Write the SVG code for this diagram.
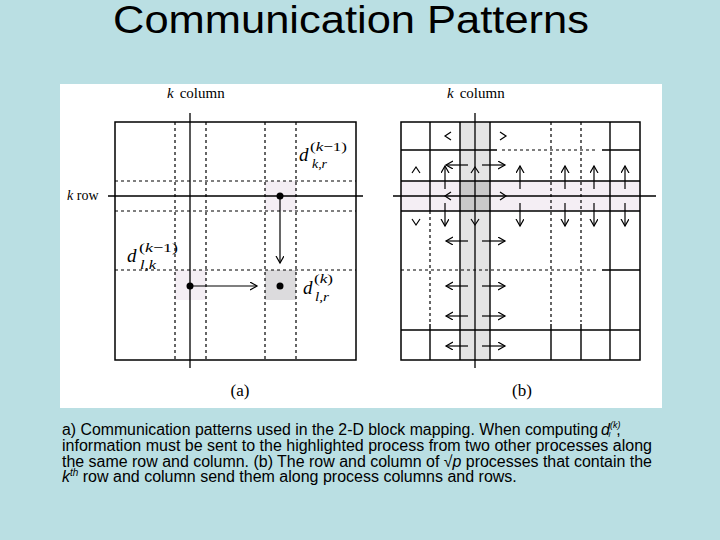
<svg xmlns="http://www.w3.org/2000/svg" width="720" height="540" viewBox="0 0 720 540">
<style>
.sans{font-family:"Liberation Sans",Arial,sans-serif;fill:#000}
.serif{font-family:"Liberation Serif","Times New Roman",serif;fill:#000}
.it{font-style:italic}
.frame{fill:none;stroke:#000;stroke-width:1.5}
.solid{stroke:#000;stroke-width:1.4;fill:none}
.dash{stroke:#000;stroke-width:1.2;stroke-dasharray:3 3;fill:none}
.axis{stroke:#000;stroke-width:1.3;fill:none}
.arr{stroke:#000;stroke-width:1.2;fill:none;marker-end:url(#ah)}
.head{stroke:#000;stroke-width:1.2;fill:none}
.pink{fill:#F4EEF4}
.lgray{fill:#E4E4E4}
.dgray{fill:#C9C9C9}
.mgray{fill:#DCDBDD}
</style>
<defs>
<marker id="ah" markerUnits="userSpaceOnUse" markerWidth="10" markerHeight="10" refX="7" refY="4" orient="auto">
<path d="M0,0 L7,4 L0,8" fill="none" stroke="#000" stroke-width="1.2"/>
</marker>
</defs>
<rect width="720" height="540" fill="#BADFE3"/>
<g id="title">
<text class="sans" x="113" y="33" font-size="38" textLength="476" lengthAdjust="spacingAndGlyphs">Communication Patterns</text>
</g>
<rect x="60" y="84" width="602" height="324" fill="#FFFFFF"/>

<g id="panel-a">
<rect class="pink" x="265" y="181" width="31" height="30"/>
<rect class="pink" x="175" y="270" width="31" height="30"/>
<rect class="mgray" x="265" y="270" width="31" height="30"/>
<rect class="frame" x="115" y="122" width="241" height="238"/>
<path class="dash" d="M175,122V360M206,122V360M265,122V360M296,122V360M115,181H356M115,211H356M115,270H356"/>
<path class="axis" d="M190,113V368M108,196H363"/>
<text class="serif" x="167" y="98" font-size="15"><tspan class="it">k</tspan><tspan dx="6">column</tspan></text>
<text class="serif" x="67" y="200" font-size="14"><tspan class="it">k</tspan> row</text>
<g id="d-kr">
<text class="serif it" x="299" y="161" font-size="19">d</text>
<text class="serif" x="310" y="151" font-size="13" textLength="37" lengthAdjust="spacingAndGlyphs">(<tspan class="it">k</tspan>−1)</text>
<text class="serif it" x="312" y="168" font-size="12" textLength="15" lengthAdjust="spacingAndGlyphs">k,r</text>
</g>
<g id="d-lk">
<text class="serif it" x="127" y="262" font-size="19">d</text>
<text class="serif" x="139" y="252" font-size="13" textLength="39" lengthAdjust="spacingAndGlyphs">(<tspan class="it">k</tspan>−1)</text>
<text class="serif it" x="140" y="269" font-size="12" textLength="16" lengthAdjust="spacingAndGlyphs">l,k</text>
</g>
<g id="d-lr">
<text class="serif it" x="303" y="294" font-size="19">d</text>
<text class="serif" x="314" y="283" font-size="13" textLength="19" lengthAdjust="spacingAndGlyphs">(<tspan class="it">k</tspan>)</text>
<text class="serif it" x="315" y="301" font-size="12" textLength="14" lengthAdjust="spacingAndGlyphs">l,r</text>
</g>
<circle cx="280" cy="196" r="3.5" fill="#000"/>
<circle cx="190" cy="286" r="3.5" fill="#000"/>
<circle cx="280" cy="286" r="3.5" fill="#000"/>
<text class="serif" x="240" y="396" font-size="17" text-anchor="middle">(a)</text>
</g>

<g id="panel-b">
<rect class="pink" x="401" y="181" width="239" height="30"/>
<rect class="lgray" x="460" y="122" width="30" height="238"/>
<rect class="dgray" x="460" y="181" width="30" height="30"/>
<rect class="frame" x="401" y="122" width="239" height="238"/>
<path class="solid" d="M430,122V211M430,324V360M460,122V360M490,122V360M551,324V360M581,324V360M610,122V360M401,150H497M602,150H640M401,181H640M401,211H640M602,270H640M401,330H640"/>
<path class="dash" d="M430,211V322M551,122V322M581,122V322M502,150H598M401,270H598"/>
<path class="axis" d="M475,113V368M393,196H656"/>
<text class="serif" x="447" y="98" font-size="15"><tspan class="it">k</tspan><tspan dx="6">column</tspan></text>
<g id="heads">
<path class="head" d="M451,132L445,136L451,140"/>
<path class="head" d="M500,132L506,136L500,140"/>
<path class="head" d="M412,173L416,167L420,173"/>
<path class="head" d="M471,173L475,167L479,173"/>
<path class="head" d="M451,192L445,196L451,200"/>
<path class="head" d="M500,192L506,196L500,200"/>
<path class="head" d="M412,219L416,225L420,219"/>
<path class="head" d="M471,219L475,225L479,219"/>
</g>
<text class="serif" x="522" y="396" font-size="17" text-anchor="middle">(b)</text>
</g>

<g id="connectors">
<path class="arr" d="M280,199V263"/>
<path class="arr" d="M193,286H257"/>
<path class="arr" d="M468,165H446"/>
<path class="arr" d="M482,165H505"/>
<path class="arr" d="M445,189V166"/>
<path class="arr" d="M520,189V166"/>
<path class="arr" d="M565,189V166"/>
<path class="arr" d="M594,189V166"/>
<path class="arr" d="M625,189V166"/>
<path class="arr" d="M445,203V226"/>
<path class="arr" d="M520,203V226"/>
<path class="arr" d="M565,203V226"/>
<path class="arr" d="M594,203V226"/>
<path class="arr" d="M625,203V226"/>
<path class="arr" d="M468,241H446"/>
<path class="arr" d="M482,241H505"/>
<path class="arr" d="M468,286H446"/>
<path class="arr" d="M482,286H505"/>
<path class="arr" d="M468,316H446"/>
<path class="arr" d="M482,316H505"/>
<path class="arr" d="M468,346H446"/>
<path class="arr" d="M482,346H505"/>
</g>

<g id="caption" class="sans" font-size="16">
<text x="62" y="435" textLength="536" lengthAdjust="spacingAndGlyphs">a) Communication patterns used in the 2-D block mapping. When computing</text>
<text x="601" y="435"><tspan class="it">d</tspan><tspan class="it" font-size="9" dy="-7">(k)</tspan><tspan class="it" font-size="8" dx="-12" dy="9">l</tspan><tspan dx="6" dy="-2">,</tspan></text>
<text x="62" y="451" textLength="590" lengthAdjust="spacingAndGlyphs">information must be sent to the highlighted process from two other processes along</text>
<text x="62" y="467" textLength="590" lengthAdjust="spacingAndGlyphs">the same row and column. (b) The row and column of √<tspan class="it">p</tspan> processes that contain the</text>
<text x="62" y="482"><tspan class="it">k</tspan><tspan class="it" font-size="10" dy="-6">th</tspan><tspan dy="6"> row and column send them along process columns and rows.</tspan></text>
</g>
</svg>
